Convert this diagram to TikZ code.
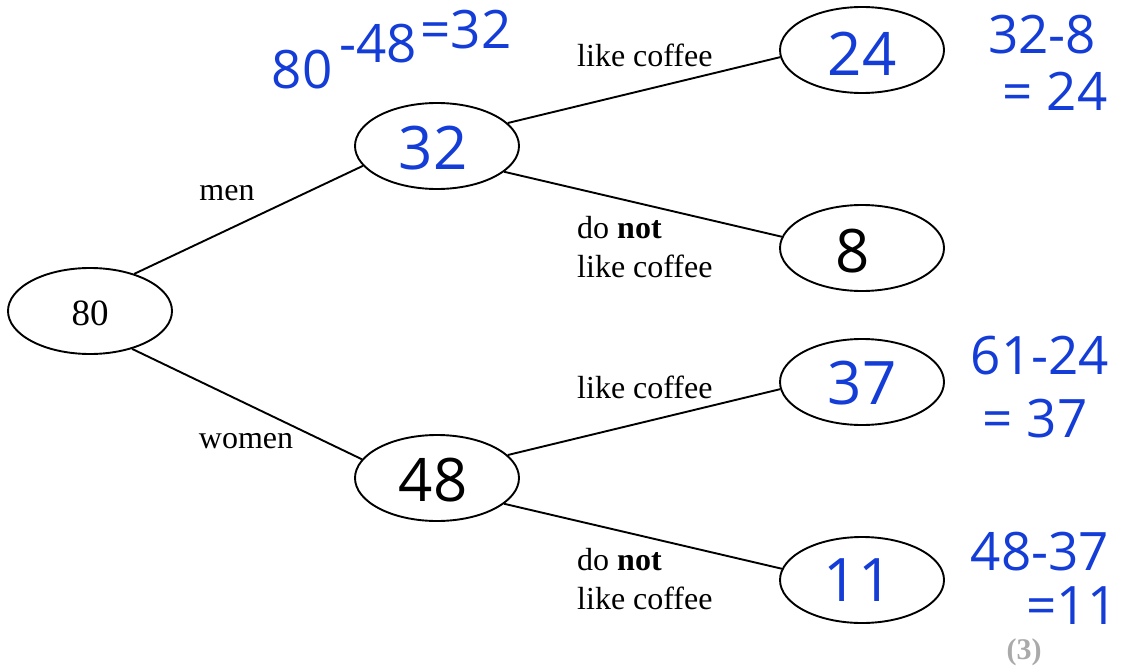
\documentclass[tikz,border=0pt]{standalone}
\usepackage{fontspec}
\setmainfont{Liberation Serif}
\newfontfamily\hand{Open Sans}
\usetikzlibrary{shapes.geometric}
\definecolor{ink}{RGB}{20,60,215}
\definecolor{markgray}{RGB}{170,170,170}
\tikzset{
  oval/.style={draw, line width=1.9pt, ellipse, minimum width=164pt, minimum height=86pt, inner sep=0pt},
  conn/.style={line width=1.9pt},
  lbl/.style={font=\fontsize{32}{38}\selectfont, inner sep=0pt},
  hw/.style={font=\hand\fontsize{60}{66}\selectfont, text=ink, inner sep=0pt, text height=43pt, text depth=0pt},
  hwb/.style={hw, text=black},
  note/.style={font=\hand\fontsize{53}{58}\selectfont, text=ink, inner sep=0pt, text height=38pt, text depth=0pt},
}
\begin{document}
\begin{tikzpicture}[x=1pt,y=-1pt]
\useasboundingbox (0,0) rectangle (1123,671);
% nodes
\node[oval] (r) at (90,311) {};
\node[lbl, font=\fontsize{37}{40}\selectfont] (rt) at (90,313) {80};
\node[oval] (a) at (437,146) {};
\node[hw] (at) at (433,148) {32};
\node[oval] (b) at (437,478) {};
\node[hwb] (bt) at (433,480) {48};
\node[oval] (c) at (862,50) {};
\node[hw] (ct) at (862,54) {24};
\node[oval] (d) at (862,248) {};
\node[hwb] (dt) at (853,251) {8};
\node[oval] (e) at (862,382) {};
\node[hw] (et) at (862,383) {37};
\node[oval] (f) at (862,580) {};
\node[hw] (ft) at (858,580) {11};
% connectors
\draw[conn] (r.40) -- (a.195);
\draw[conn] (r.318) -- (b.166);
\draw[conn] (a.18) -- (c.185);
\draw[conn] (a.339) -- (d.172);
\draw[conn] (b.18) -- (e.185);
\draw[conn] (b.339) -- (f.172);
% labels
\node[lbl] (l1) at (227,193) {men};
\node[lbl] (l2) at (246,441) {women};
\node[lbl,anchor=west] (l3) at (577,55) {like coffee};
\node[lbl,anchor=west] (l4) at (577,228) {do \textbf{not}};
\node[lbl,anchor=west] (l5) at (577,266) {like coffee};
\node[lbl,anchor=west] (l6) at (577,387) {like coffee};
\node[lbl,anchor=west] (l7) at (577,560) {do \textbf{not}};
\node[lbl,anchor=west] (l8) at (577,598) {like coffee};
\node[font=\bfseries\fontsize{30}{34}\selectfont, text=markgray, inner sep=0pt] (m) at (1024,652) {(3)};
% handwritten notes
\node[note] (n1a) at (302,70) {80};
\node[note] (n1b) at (378,44) {-48};
\node[note] (n1c) at (466,30) {=32};
\node[note] (n2) at (1042,35) {32-8};
\node[note] (n3) at (1055,92) {= 24};
\node[note] (n4) at (1040,355) {61-24};
\node[note] (n5) at (1035,418) {= 37};
\node[note] (n6) at (1040,551) {48-37};
\node[note] (n7) at (1072,605) {=11};
\end{tikzpicture}
\end{document}
